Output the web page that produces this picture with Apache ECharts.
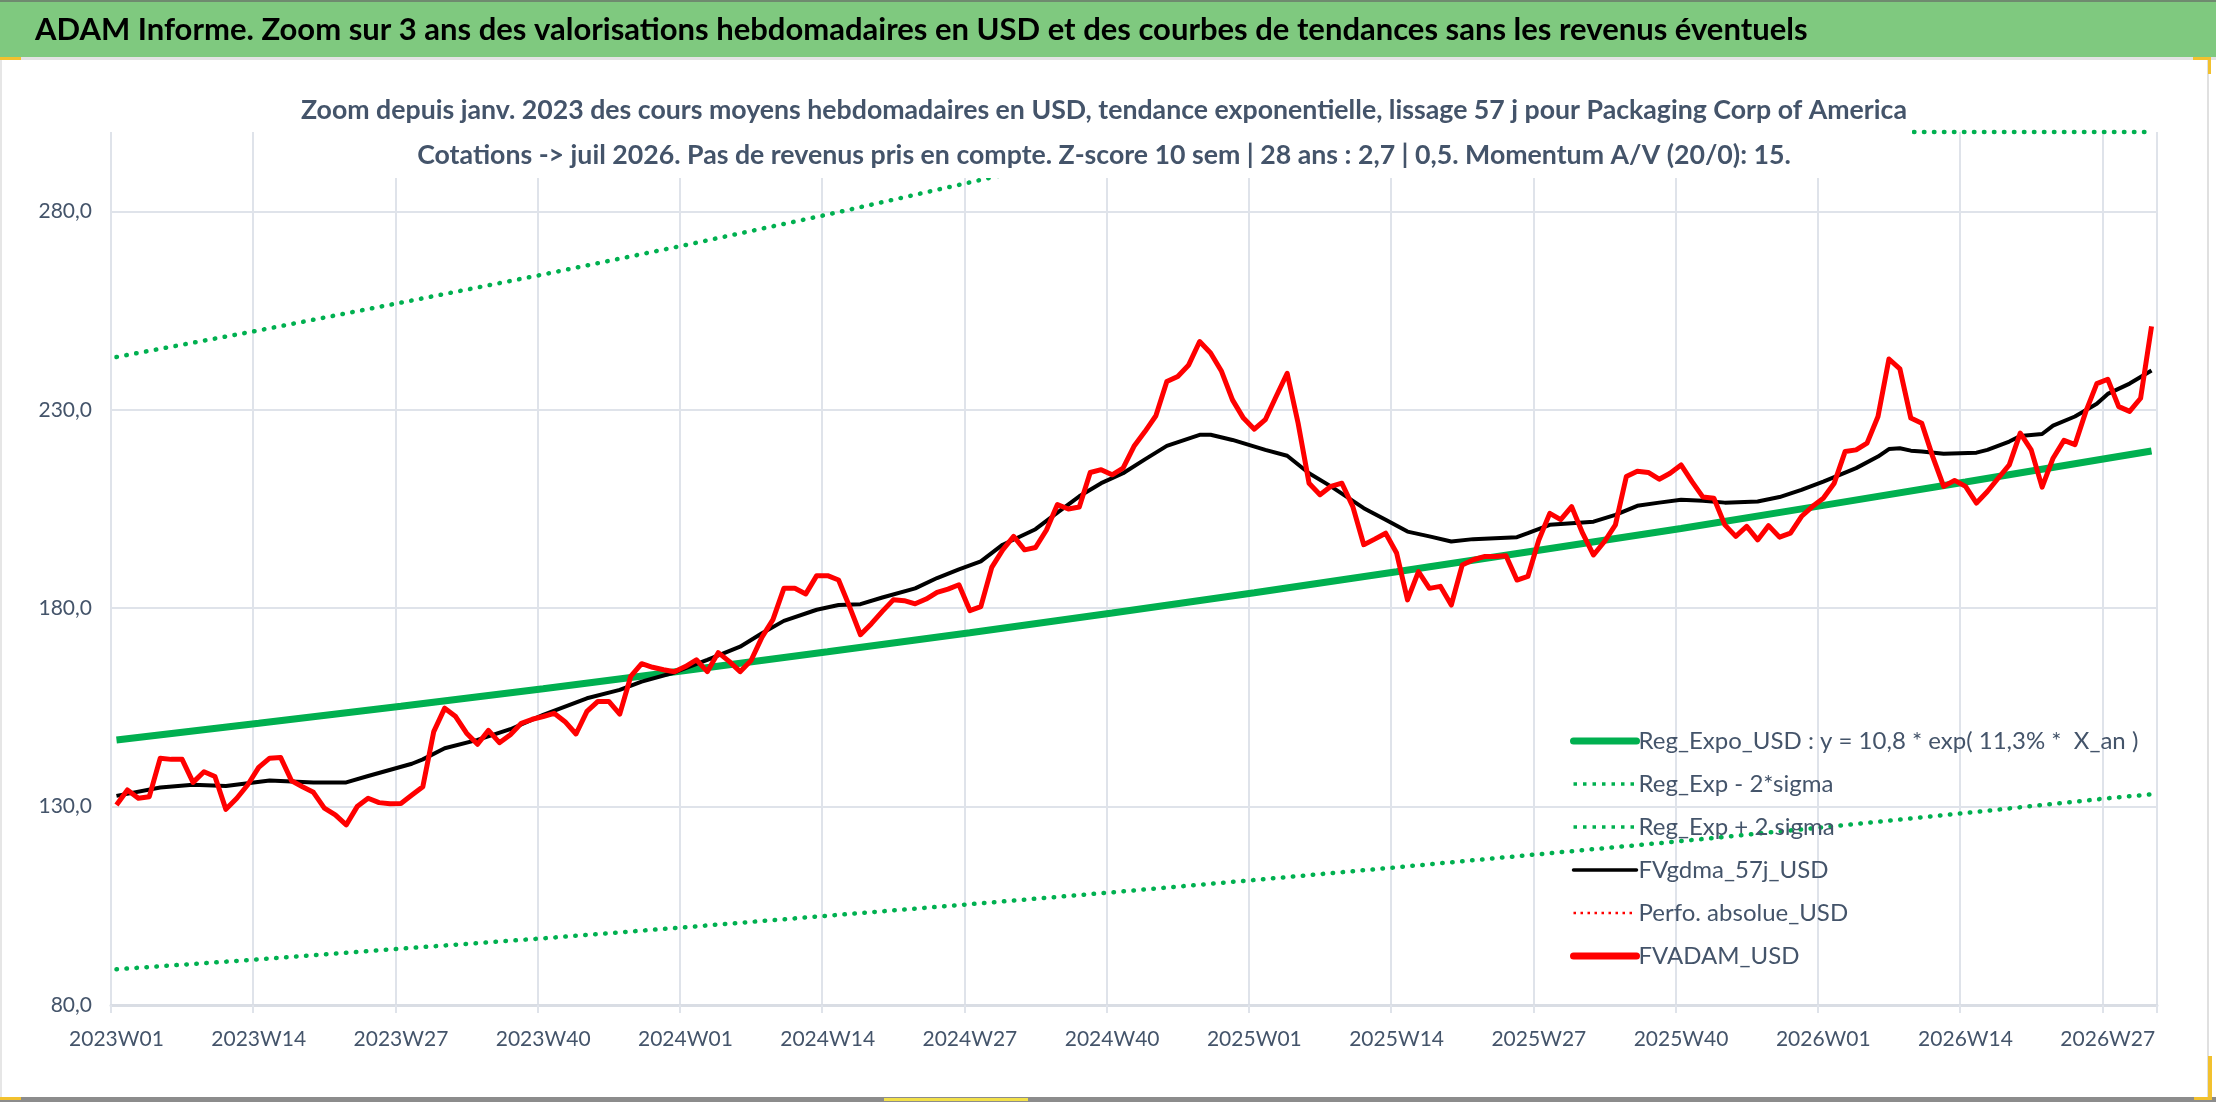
<!DOCTYPE html>
<html>
<head>
<meta charset="utf-8">
<script src="https://cdn.jsdelivr.net/npm/echarts@6/dist/echarts.min.js"></script>
<style>
  html, body { margin: 0; padding: 0; background: #fff; }
  #chart { width: 2216px; height: 1102px; }
</style>
</head>
<body>
<div id="chart"></div>
<script>
// Catégories hebdo (ISO) : 2023W01 -> 2026W31
const weekYears = [2023, 2024, 2025, 2026];
const weeksInYear = [52, 52, 52, 31];
const yTicks = [80, 130, 180, 230, 280];

// FVADAM_USD (cours moyens hebdo)
const fvadamUsd = [
  130.4, 134.2, 132.1, 132.5, 142.2, 141.9, 141.9, 136.1, 138.8, 137.6,
  129.3, 132.1, 135.5, 139.9, 142.2, 142.4, 136.5, 135.0, 133.6, 129.6,
  127.9, 125.4, 130.0, 132.1, 131.0, 130.7, 130.8, 132.9, 135.0, 148.9,
  154.8, 152.7, 148.5, 145.7, 149.2, 146.1, 148.1, 151.0, 152.0, 152.7,
  153.5, 151.4, 148.3, 154.0, 156.5, 156.5, 153.3, 162.8, 166.0, 165.1,
  164.5, 164.0, 165.3, 167.0, 164.0, 168.8, 166.6, 164.0, 166.8, 172.7,
  177.1, 185.0, 185.0, 183.6, 188.2, 188.2, 187.1, 180.4, 173.3, 176.1,
  179.2, 182.1, 181.9, 181.1, 182.3, 184.0, 184.8, 185.9, 179.4, 180.4,
  190.3, 194.7, 198.1, 194.7, 195.3, 199.7, 206.1, 205.0, 205.5, 214.2,
  214.9, 213.6, 215.3, 220.8, 224.5, 228.5, 237.1, 238.4, 241.3, 247.2,
  244.3, 239.7, 232.5, 227.9, 225.1, 227.5, 233.4, 239.2, 226.6, 211.5,
  208.6, 210.7, 211.5, 205.6, 196.0, 197.4, 198.9, 193.9, 182.1, 189.2,
  185.0, 185.5, 180.8, 190.9, 192.2, 193.0, 193.0, 193.2, 187.1, 188.0,
  197.2, 203.9, 202.3, 205.6, 198.9, 193.4, 196.8, 201.0, 213.2, 214.5,
  214.2, 212.5, 214.0, 216.1, 211.9, 208.0, 207.7, 201.0, 198.1, 200.6,
  197.2, 200.8, 197.9, 198.9, 203.1, 205.6, 207.7, 211.5, 219.5, 219.9,
  221.6, 228.3, 242.8, 240.3, 227.9, 226.6, 218.2, 210.7, 212.2, 210.7,
  206.5, 209.4, 212.8, 216.1, 224.1, 219.9, 210.5, 217.8, 222.3, 221.2,
  229.6, 236.6, 237.7, 230.8, 229.6, 232.9, 251.0
];

// FVgdma_57j_USD (moyenne lissée) : semaines relevées et valeurs
const gdmaIdx = [0, 4, 7, 10, 14, 18, 21, 23, 27, 28, 30, 33, 36, 39, 43, 46, 48, 51, 54, 57,
  59, 61, 64, 66, 68, 70, 73, 75, 77, 79, 81, 84, 86, 88, 90, 92, 94, 96, 99, 100,
  102, 105, 107, 109, 111, 114, 116, 118, 120, 122, 124, 128, 129, 131, 135, 137, 139, 141, 143, 145,
  147, 150, 152, 154, 156, 159, 161, 162, 163, 164, 165, 167, 170, 171, 173, 174, 176, 177, 179, 181,
  182, 184, 186];
const gdmaVal = [132.7, 134.8, 135.5, 135.2, 136.6, 136.1, 136.1, 137.7, 140.8, 141.9, 144.7, 146.8, 149.5, 153.1, 157.3, 159.4, 161.5, 163.8, 167.0, 170.3,
  173.7, 176.8, 179.6, 180.8, 181.0, 182.7, 185.0, 187.6, 189.8, 191.8, 196.0, 199.9, 204.1, 208.2, 211.5, 214.0, 217.5, 220.9, 223.7, 223.7,
  222.4, 219.9, 218.4, 214.0, 210.7, 205.2, 202.3, 199.3, 198.1, 196.8, 197.4, 197.9, 198.9, 201.0, 201.8, 203.5, 205.8, 206.6, 207.3, 207.1,
  206.6, 206.9, 208.0, 209.8, 211.9, 215.3, 218.2, 220.1, 220.3, 219.7, 219.5, 218.9, 219.2, 219.9, 222.0, 223.4, 223.9, 226.0, 228.3, 231.5,
  234.0, 236.6, 239.9];

// Tendance exponentielle et bandes +/- 2 sigma (relevées toutes les 13 semaines)
const trendIdx = [0, 13, 26, 39, 52, 65, 78, 91, 104, 117, 130, 143, 156, 169, 182, 186];
const regExpo = [146.8, 151.0, 155.3, 159.7, 164.3, 169.0, 173.8, 178.8, 183.9, 189.2, 194.6, 200.1, 205.9, 211.8, 217.8, 219.6];
const regLow = [89.0, 91.5, 94.2, 96.8, 99.6, 102.5, 105.4, 108.4, 111.5, 114.7, 118.0, 121.3, 124.8, 128.4, 132.1, 133.1];
const regHigh = [243.3, 250.0, 257.0, 264.1, 271.5, 279.2, 287.3, 295.5, 300, 300, 300, 300, 300, 300, 300, 300];

const seriesNames = [
  'Reg_Expo_USD : y = 10,8 * exp( 11,3% *  X_an )',
  'Reg_Exp - 2*sigma',
  'Reg_Exp + 2 sigma',
  'FVgdma_57j_USD',
  'Perfo. absolue_USD',
  'FVADAM_USD'
];

const titleText = 'ADAM Informe. Zoom sur 3 ans des valorisations hebdomadaires en USD et des courbes de tendances sans les revenus éventuels';
const subLine1 = 'Zoom depuis janv. 2023 des cours moyens hebdomadaires en USD, tendance exponentielle, lissage 57 j pour Packaging Corp of America';
const subLine2 = 'Cotations -> juil 2026. Pas de revenus pris en compte. Z-score 10 sem | 28 ans : 2,7 | 0,5. Momentum A/V (20/0): 15.';

const weeks = [];
weekYears.forEach((y, k) => {
  for (let w = 1; w <= weeksInYear[k]; w++) {
    weeks.push(y + 'W' + (w < 10 ? '0' + w : w));
  }
});

// série creuse -> tableau complet (nulls reliés)
function sparse(idx, vals) {
  const arr = weeks.map(() => null);
  idx.forEach((i, k) => { arr[i] = vals[k]; });
  return arr;
}

const font = "Lato, 'Noto Sans', sans-serif";
const txtColor = '#44546A';
const gridColor = '#dfe3ea';
const green = '#00B050';
const red = '#FF0000';
const dots = [0.5, 9.5];

const chart = echarts.init(document.getElementById('chart'), null, { renderer: 'canvas' });

chart.setOption({
  animation: false,
  backgroundColor: '#fff',
  grid: { left: 111, right: 59, top: 132, bottom: 97, containLabel: false },
  legend: {
    orient: 'vertical',
    left: 1570,
    top: 729,
    padding: 0,
    itemWidth: 63,
    itemHeight: 14,
    itemGap: 19,
    itemStyle: { opacity: 0 },
    textStyle: { color: txtColor, fontSize: 24, fontFamily: font, padding: [0, 0, 0, -3] },
    data: [
      { name: seriesNames[0], lineStyle: { width: 7, cap: 'round' } },
      { name: seriesNames[1], lineStyle: { width: 3.5, type: [3.5, 6], cap: 'butt' } },
      { name: seriesNames[2], lineStyle: { width: 3.5, type: [3.5, 6], cap: 'butt' } },
      { name: seriesNames[3], lineStyle: { width: 3.5, cap: 'round' } },
      { name: seriesNames[4], lineStyle: { width: 2.5, type: [2.5, 4.5], cap: 'butt' } },
      { name: seriesNames[5], lineStyle: { width: 7, cap: 'round' } }
    ]
  },
  xAxis: {
    type: 'category',
    data: weeks,
    boundaryGap: true,
    axisLine: { lineStyle: { color: '#d9dde4', width: 3 } },
    axisTick: { show: true, interval: 12, length: 8, lineStyle: { color: gridColor, width: 2 } },
    axisLabel: { interval: 12, color: txtColor, fontSize: 21, fontFamily: font, margin: 24 },
    splitLine: { show: true, interval: 12, lineStyle: { color: gridColor, width: 2 } }
  },
  yAxis: {
    type: 'value',
    min: 80,
    max: 300,
    interval: 50,
    axisLine: { show: false },
    axisTick: { show: false },
    axisLabel: {
      color: txtColor, fontSize: 21, fontFamily: font, margin: 19,
      showMaxLabel: false,
      formatter: v => yTicks.indexOf(v) >= 0 ? v.toFixed(1).replace('.', ',') : ''
    },
    splitLine: { show: true, showMinLine: false, showMaxLine: false, lineStyle: { color: gridColor, width: 2 } }
  },
  series: [
    {
      name: seriesNames[0], type: 'line', symbol: 'none', connectNulls: true, z: 3,
      lineStyle: { color: green, width: 7 },
      itemStyle: { color: green },
      data: sparse(trendIdx, regExpo)
    },
    {
      name: seriesNames[1], type: 'line', symbol: 'none', connectNulls: true, z: 3,
      lineStyle: { color: green, width: 4.5, type: dots, cap: 'round' },
      itemStyle: { color: green },
      data: sparse(trendIdx, regLow)
    },
    {
      name: seriesNames[2], type: 'line', symbol: 'none', connectNulls: true, z: 3, clip: false,
      lineStyle: { color: green, width: 4.5, type: dots, cap: 'round' },
      itemStyle: { color: green },
      data: sparse(trendIdx, regHigh)
    },
    {
      name: seriesNames[3], type: 'line', symbol: 'none', connectNulls: true, z: 4,
      lineStyle: { color: '#000', width: 4 },
      itemStyle: { color: '#000' },
      data: sparse(gdmaIdx, gdmaVal)
    },
    {
      name: seriesNames[4], type: 'line', symbol: 'none', z: 4,
      lineStyle: { color: red, width: 2.5, type: [0.5, 7], cap: 'round' },
      itemStyle: { color: red },
      data: []
    },
    {
      name: seriesNames[5], type: 'line', symbol: 'none', z: 5,
      lineStyle: { color: red, width: 5, join: 'round' },
      itemStyle: { color: red },
      data: fvadamUsd
    }
  ],
  graphic: [
    // bandeau vert du haut
    { type: 'rect', z: 100, shape: { x: 0, y: 0, width: 2216, height: 57 }, style: { fill: '#7FC97F' } },
    { type: 'rect', z: 101, shape: { x: 0, y: 0, width: 2216, height: 2 }, style: { fill: '#6f8a6f' } },
    { type: 'rect', z: 101, shape: { x: 0, y: 57, width: 2216, height: 3 }, style: { fill: '#e3e3e3' } },
    {
      type: 'text', z: 102, x: 35, y: 30,
      style: { text: titleText, fill: '#000', verticalAlign: 'middle', font: 'bold 31px ' + font }
    },
    // cadre blanc du sous-titre (masque les courbes)
    { type: 'rect', z: 100, shape: { x: 290, y: 84, width: 1622, height: 94 }, style: { fill: '#fff' } },
    {
      type: 'text', z: 102, x: 1104, y: 110,
      style: { text: subLine1, fill: txtColor, align: 'center', verticalAlign: 'middle', font: 'bold 26.7px ' + font }
    },
    {
      type: 'text', z: 102, x: 1104, y: 155,
      style: { text: subLine2, fill: txtColor, align: 'center', verticalAlign: 'middle', font: 'bold 26.7px ' + font }
    },
    // bords et poignées de sélection
    { type: 'rect', z: 100, shape: { x: 0, y: 60, width: 2, height: 1040 }, style: { fill: '#e6e6e6' } },
    { type: 'rect', z: 100, shape: { x: 2207, y: 60, width: 2, height: 1040 }, style: { fill: '#e0e0e0' } },
    { type: 'rect', z: 100, shape: { x: 0, y: 1097, width: 2216, height: 5 }, style: { fill: '#8c8c8c' } },
    { type: 'rect', z: 101, shape: { x: 0, y: 57, width: 21, height: 3 }, style: { fill: '#F2C12E' } },
    { type: 'rect', z: 101, shape: { x: 2193, y: 57, width: 18, height: 3 }, style: { fill: '#F2C12E' } },
    { type: 'rect', z: 101, shape: { x: 2208, y: 57, width: 3, height: 17 }, style: { fill: '#F2C12E' } },
    { type: 'rect', z: 101, shape: { x: 0, y: 1097, width: 21, height: 3 }, style: { fill: '#F2C12E' } },
    { type: 'rect', z: 101, shape: { x: 884, y: 1098, width: 144, height: 3 }, style: { fill: '#F2E04A' } },
    { type: 'rect', z: 101, shape: { x: 2208, y: 1056, width: 4, height: 44 }, style: { fill: '#F2C12E' } },
    { type: 'rect', z: 101, shape: { x: 2194, y: 1097, width: 18, height: 3 }, style: { fill: '#F2C12E' } }
  ]
});
</script>
</body>
</html>
